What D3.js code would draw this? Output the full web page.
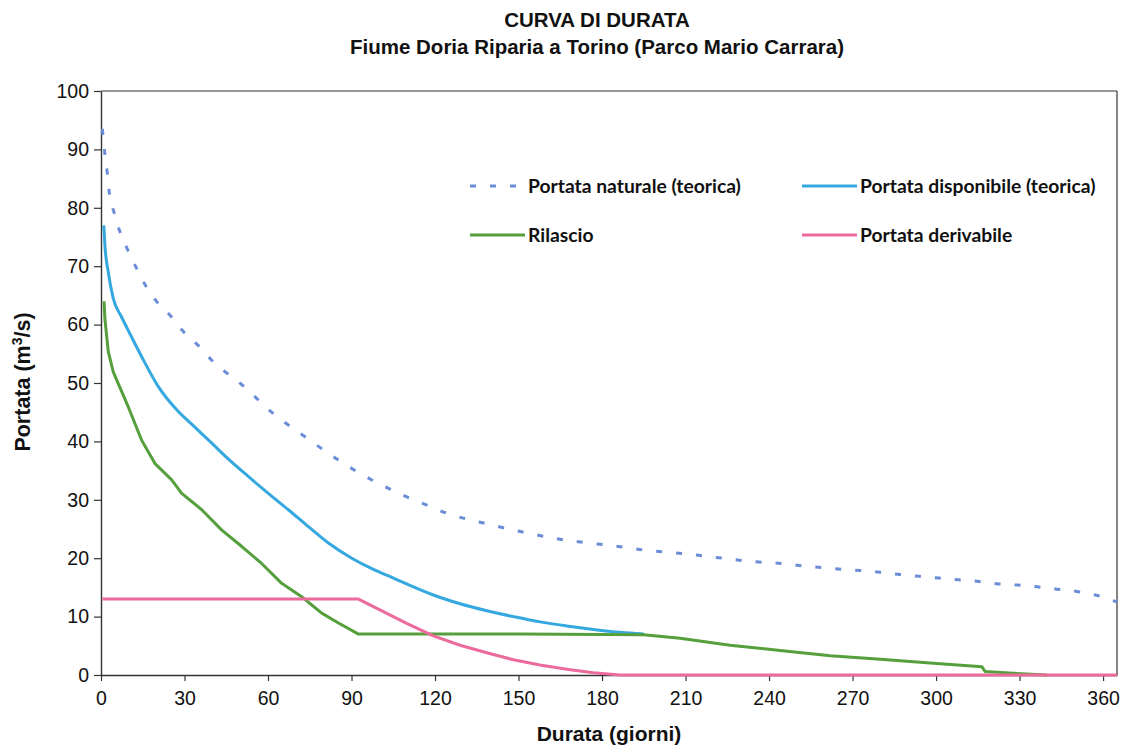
<!DOCTYPE html>
<html>
<head>
<meta charset="utf-8">
<script src="https://cdn.jsdelivr.net/npm/d3@7"></script>
<style>
  html, body { margin: 0; padding: 0; background: #fff; }
  svg { display: block; }
</style>
</head>
<body>
<svg id="chart" width="1123" height="745"></svg>
<script>
// ---------------- DATA ----------------
const xTicks = [0, 30, 60, 90, 120, 150, 180, 210, 240, 270, 300, 330, 360];
const yTicks = [0, 10, 20, 30, 40, 50, 60, 70, 80, 90, 100];

const seriesNames = ["Portata naturale (teorica)", "Portata disponibile (teorica)", "Rilascio", "Portata derivabile"];

const naturaleDays = [0.5, 1.4, 2.3, 3, 4.7, 6.8, 9.6, 12.7, 16, 20.2, 25.2, 29.6, 35, 39.8, 45.2, 50.6, 61.3, 73.3, 85.3, 97.3, 104, 110.8, 117.6, 124.2, 131.4, 138.6, 145.5, 152.4, 159.5, 166.7, 173.6, 180.7, 187.7, 194.9, 202, 209, 216.2, 223.3, 230.4, 237.4, 244.6, 251.8, 259, 265.9, 272.8, 280, 287.1, 294, 301.1, 308.3, 315.5, 322.4, 329.2, 336.4, 343.4, 350.6, 357.2, 365];
const naturaleValues = [93.5, 89.2, 85.8, 82.5, 79.2, 75.9, 72.8, 69.7, 66.7, 63.8, 61.4, 58.8, 56.4, 53.9, 51.7, 49.7, 45, 40.8, 36.8, 33.4, 31.8, 30.3, 29, 27.7, 26.7, 25.9, 25.1, 24.4, 23.7, 23.1, 22.7, 22.3, 21.9, 21.4, 21.1, 20.8, 20.4, 20, 19.6, 19.3, 19.1, 18.7, 18.4, 18.1, 17.9, 17.6, 17.2, 16.9, 16.6, 16.3, 16, 15.6, 15.4, 15.1, 14.7, 14.3, 13.7, 12.5];

const disponibileDays = [1, 1.4, 2.6, 4.4, 7.4, 9.8, 15.5, 20.3, 27.2, 33.8, 39.8, 45.7, 52.9, 60.1, 67.3, 74.5, 81.7, 90.1, 97.3, 104.5, 109.8, 119.4, 129, 138.6, 148.2, 157.7, 167.3, 176.9, 186.5, 195];
const disponibileValues = [77, 73.6, 69, 64.5, 61.3, 59, 53.7, 49.6, 45.4, 42.4, 39.7, 37, 34, 31.1, 28.3, 25.4, 22.6, 20, 18.2, 16.7, 15.6, 13.7, 12.2, 11, 10, 9.1, 8.4, 7.8, 7.3, 7];

const rilascioDays = [1.1, 1.4, 2.6, 4.4, 6.2, 9.8, 14.6, 19.4, 25.4, 29, 36.2, 43.4, 50.6, 57.7, 64.9, 72.1, 79.3, 85.3, 92.5, 120, 150, 180, 195, 208, 226, 244, 262, 280, 299, 316.5, 317.6, 327.8, 339.8];
const rilascioValues = [64, 61, 55.4, 51.9, 49.9, 45.9, 40.2, 36.2, 33.4, 31.1, 28.3, 24.8, 22, 19.1, 15.7, 13.4, 10.6, 8.9, 7, 7, 7, 6.95, 6.9, 6.3, 5.1, 4.2, 3.3, 2.7, 2, 1.4, 0.6, 0.3, 0];

const derivabileDays = [0.5, 92.5, 100, 110, 119.4, 129, 138.6, 148.2, 157.7, 167.3, 176.9, 186.5, 365];
const derivabileValues = [13, 13, 11.2, 8.8, 6.7, 5.1, 3.8, 2.6, 1.7, 1, 0.4, 0, 0];

// ---------------- CHART ----------------
const svg = d3.select("#chart");
const mLeft = 101, mRight = 1117, mTop = 91, mBottom = 675;

const x = d3.scaleLinear().domain([0, 365]).range([mLeft, mRight]);
const y = d3.scaleLinear().domain([0, 100]).range([mBottom, mTop]);

const axisColor = "#333";
const tickFont = "'Liberation Sans', Arial, sans-serif";

// title
svg.append("text").attr("x", 597).attr("y", 27).attr("text-anchor", "middle")
  .attr("font-family", tickFont).attr("font-weight", "bold").attr("font-size", 20.5)
  .attr("fill", "#111").text("CURVA DI DURATA");
svg.append("text").attr("x", 597).attr("y", 54).attr("text-anchor", "middle")
  .attr("font-family", tickFont).attr("font-weight", "bold").attr("font-size", 20.5)
  .attr("fill", "#111").text("Fiume Doria Riparia a Torino (Parco Mario Carrara)");

// border top and right
svg.append("line").attr("x1", mLeft).attr("x2", mRight).attr("y1", mTop).attr("y2", mTop)
  .attr("stroke", axisColor).attr("stroke-width", 1.2);
svg.append("line").attr("x1", mRight).attr("x2", mRight).attr("y1", mTop).attr("y2", mBottom)
  .attr("stroke", axisColor).attr("stroke-width", 1.2);

// axes
const yAxis = d3.axisLeft(y).tickValues(yTicks).tickSize(7).tickSizeOuter(0).tickPadding(5);
const gy = svg.append("g").attr("transform", `translate(${mLeft},0)`).call(yAxis);
const xAxis = d3.axisBottom(x).tickValues(xTicks).tickSize(6).tickSizeOuter(0).tickPadding(10);
const gx = svg.append("g").attr("transform", `translate(0,${mBottom})`).call(xAxis);
[gx, gy].forEach(g => {
  g.select(".domain").attr("stroke", axisColor).attr("stroke-width", 1.4);
  g.selectAll(".tick line").attr("stroke", axisColor).attr("stroke-width", 1.2);
  g.selectAll(".tick text").attr("font-family", tickFont).attr("font-size", 19.5).attr("fill", "#111");
});

// axis titles
svg.append("text").attr("x", 609).attr("y", 741).attr("text-anchor", "middle")
  .attr("font-family", tickFont).attr("font-weight", "bold").attr("font-size", 21)
  .attr("fill", "#111").text("Durata (giorni)");
const yt = svg.append("text").attr("transform", "translate(30,382) rotate(-90)")
  .attr("text-anchor", "middle")
  .attr("font-family", tickFont).attr("font-weight", "bold").attr("font-size", 21.5)
  .attr("fill", "#111");
yt.append("tspan").text("Portata (m");
yt.append("tspan").attr("dy", -8).attr("font-size", 14).text("3");
yt.append("tspan").attr("dy", 8).text("/s)");

// lines
const colors = ["#6b8dd8", "#35a8e0", "#55a03c", "#ec6a9c"];
const dashes = ["6,14", null, null, null];
const curves = [d3.curveMonotoneX, d3.curveMonotoneX, d3.curveLinear, d3.curveLinear];
const allDays = [naturaleDays, disponibileDays, rilascioDays, derivabileDays];
const allValues = [naturaleValues, disponibileValues, rilascioValues, derivabileValues];

allDays.forEach((days, i) => {
  const line = d3.line().x(d => x(d[0])).y(d => y(d[1])).curve(curves[i]);
  const pts = days.map((d, j) => [d, allValues[i][j]]);
  svg.append("path").datum(pts).attr("d", line)
    .attr("fill", "none").attr("stroke", colors[i])
    .attr("stroke-width", 3)
    .attr("stroke-dasharray", dashes[i])
    .attr("stroke-linejoin", "round");
});

// legend
const legendFont = "Lato, 'Open Sans', sans-serif";
const legendPos = [[470, 186], [802, 186], [470, 235], [802, 235]];
seriesNames.forEach((name, i) => {
  const [lx, ly] = legendPos[i];
  svg.append("line").attr("x1", lx).attr("x2", lx + 55).attr("y1", ly).attr("y2", ly)
    .attr("stroke", colors[i]).attr("stroke-width", 3)
    .attr("stroke-dasharray", i === 0 ? "6,14" : null);
  svg.append("text").attr("x", lx + 58).attr("y", ly + 7)
    .attr("font-family", legendFont).attr("font-weight", "bold").attr("font-size", 19.3)
    .attr("fill", "#111").text(name);
});
</script>
</body>
</html>
